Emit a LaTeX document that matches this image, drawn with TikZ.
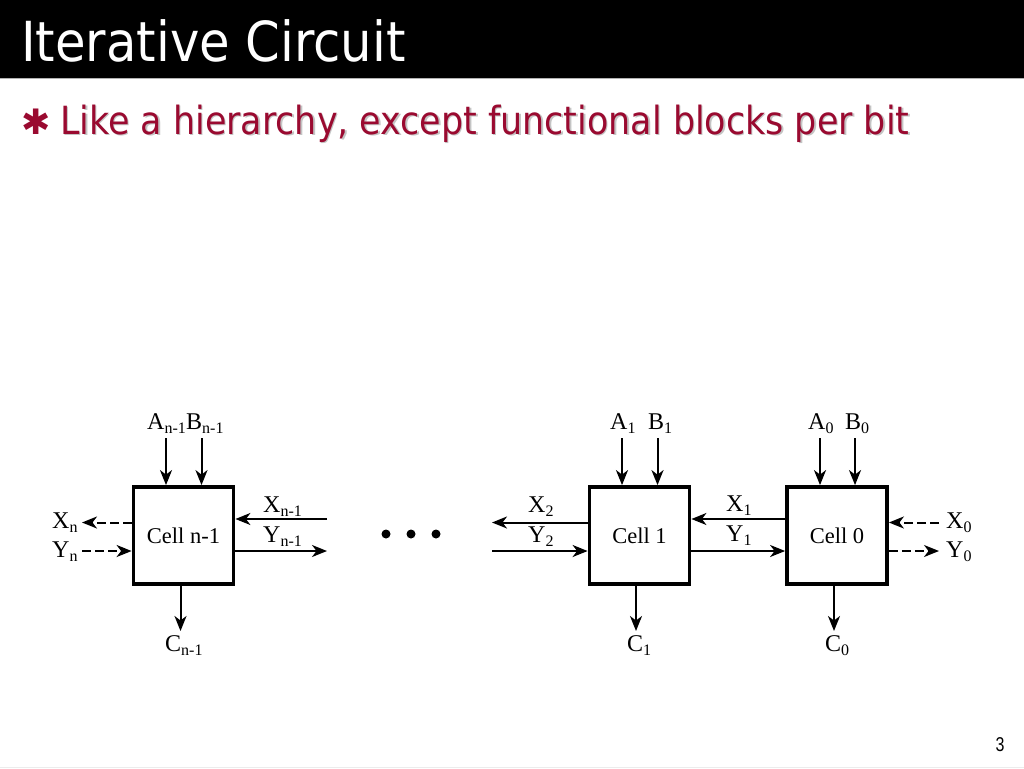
\documentclass[tikz,border=0pt]{standalone}
\usepackage{fontspec}
\setmainfont{Liberation Serif}
\newfontfamily\slidefont{DejaVu Sans Condensed}
\newfontfamily\symbolfont{DejaVu Sans}
\newfontfamily\pagefont{Liberation Sans}
\usetikzlibrary{calc}
\usetikzlibrary{arrows.meta}
\definecolor{slidered}{HTML}{9A0A30}
\definecolor{shadowgrey}{HTML}{C4C4C4}
\tikzset{>={Stealth[length=15pt,width=12pt,inset=4.5pt]}}
\tikzset{
    cellbox/.style={draw, line width=3.8pt, minimum width=100pt, minimum height=97pt, inner sep=0pt, font=\fontsize{22.5}{24}\selectfont},
    wire/.style={->, line width=2pt},
    dashwire/.style={->, line width=2pt, dash pattern=on 9pt off 4pt},
    siglabel/.style={anchor=base west, inner sep=0pt, font=\fontsize{24}{26}\selectfont},
    dotnode/.style={circle, fill=black, inner sep=0pt, minimum size=9pt},
    bullettext/.style={anchor=base west, inner sep=0pt, font=\slidefont\fontsize{38.8}{41}\selectfont},
}
\newcommand{\sig}[2]{#1\raisebox{-4pt}{\fontsize{16}{16}\selectfont #2}}

\begin{document}
\begin{tikzpicture}[x=1pt,y=-1pt]
    \useasboundingbox (0,0) rectangle (1024,768);
    % slide frame
    \fill[black] (0,0) rectangle (1024,78);
    \draw[gray!60, line width=1pt] (0,78.5) -- (1024,78.5);
    \draw[gray!15, line width=1pt] (0,767.5) -- (1024,767.5);
    \node[anchor=base west, inner sep=0pt, text=white, font=\slidefont\fontsize{55.2}{58}\selectfont] (title) at (21,61.5) {Iterative Circuit};
    \node[bullettext, text=shadowgrey] (bulletshadow) at (61.5,135.5) {Like a hierarchy, except functional blocks per bit};
    \node[bullettext, text=slidered] (bullet) at (60,134) {Like a hierarchy, except functional blocks per bit};
    \node[anchor=center, inner sep=0pt, text=slidered, font=\symbolfont\fontsize{35}{35}\selectfont] (star) at (36.5,122) {✱};
    \node[anchor=base, inner sep=0pt, xscale=.8, font=\pagefont\fontsize{20}{20}\selectfont] (page) at (1000,751) {3};

    % cells
    \node[cellbox] (celln) at (183.5,535.5) {Cell n-1};
    \node[cellbox] (cellone) at (639.5,535.5) {Cell 1};
    \node[cellbox] (cellzero) at (837,535.5) {Cell 0};

    % the dots between the cells
    \node[dotnode] (dota) at (386,534) {};
    \node[dotnode] (dotb) at (411,534) {};
    \node[dotnode] (dotc) at (436,534) {};

    % labels of cell n-1
    \node[siglabel] (an) at (147,429) {\sig{A}{n-1}};
    \node[siglabel] (bn) at (186,429) {\sig{B}{n-1}};
    \node[siglabel] (cn) at (165,651) {\sig{C}{n-1}};
    \node[siglabel] (xn) at (52,528) {\sig{X}{n}};
    \node[siglabel] (yn) at (52,557) {\sig{Y}{n}};
    \node[siglabel] (xnm) at (263,512) {\sig{X}{n-1}};
    \node[siglabel] (ynm) at (263,542) {\sig{Y}{n-1}};

    % labels of cell 1
    \node[siglabel] (aone) at (610,429) {\sig{A}{1}};
    \node[siglabel] (bone) at (648,429) {\sig{B}{1}};
    \node[siglabel] (cone) at (627,651) {\sig{C}{1}};
    \node[siglabel] (xtwo) at (528,512) {\sig{X}{2}};
    \node[siglabel] (ytwo) at (528,542) {\sig{Y}{2}};
    \node[siglabel] (xone) at (726,511) {\sig{X}{1}};
    \node[siglabel] (yone) at (726,541) {\sig{Y}{1}};

    % labels of cell 0
    \node[siglabel] (azero) at (808,429) {\sig{A}{0}};
    \node[siglabel] (bzero) at (845,429) {\sig{B}{0}};
    \node[siglabel] (czero) at (825,651) {\sig{C}{0}};
    \node[siglabel] (xzero) at (946,528) {\sig{X}{0}};
    \node[siglabel] (yzero) at (946,557) {\sig{Y}{0}};

    % free ends
    \coordinate (anend) at (166,438);
    \coordinate (bnend) at (201.5,438);
    \coordinate (cnend) at (180.5,631);
    \coordinate (xnend) at (82,522.5);
    \coordinate (ynend) at (82,551);
    \coordinate (xnmend) at (327,519);
    \coordinate (ynmend) at (327,551);
    \coordinate (aoneend) at (622,438);
    \coordinate (boneend) at (657.5,438);
    \coordinate (coneend) at (636,631);
    \coordinate (xtwoend) at (492,522.5);
    \coordinate (ytwoend) at (492,551);
    \coordinate (azeroend) at (820,438);
    \coordinate (bzeroend) at (855,438);
    \coordinate (czeroend) at (834,631);
    \coordinate (xzeroend) at (939,522.5);
    \coordinate (yzeroend) at (939,551);

    % cell n-1
    \draw[wire] (anend) -- (anend |- celln.north);
    \draw[wire] (bnend) -- (bnend |- celln.north);
    \draw[wire] (cnend |- celln.south) -- (cnend);
    \draw[dashwire] (xnend -| celln.west) -- (xnend);
    \draw[dashwire] (ynend) -- (ynend -| celln.west);
    \draw[wire] (xnmend) -- (xnmend -| celln.east);
    \draw[wire] (ynmend -| celln.east) -- (ynmend);

    % cell 1
    \draw[wire] (aoneend) -- (aoneend |- cellone.north);
    \draw[wire] (boneend) -- (boneend |- cellone.north);
    \draw[wire] (coneend |- cellone.south) -- (coneend);
    \draw[wire] (xtwoend -| cellone.west) -- (xtwoend);
    \draw[wire] (ytwoend) -- (ytwoend -| cellone.west);

    % between cell 1 and cell 0
    \draw[wire] (xnmend -| cellzero.west) -- (xnmend -| cellone.east);
    \draw[wire] (ynmend -| cellone.east) -- (ynmend -| cellzero.west);

    % cell 0
    \draw[wire] (azeroend) -- (azeroend |- cellzero.north);
    \draw[wire] (bzeroend) -- (bzeroend |- cellzero.north);
    \draw[wire] (czeroend |- cellzero.south) -- (czeroend);
    \draw[dashwire] (xzeroend) -- (xzeroend -| cellzero.east);
    \draw[dashwire] (yzeroend -| cellzero.east) -- (yzeroend);
\end{tikzpicture}
\end{document}
